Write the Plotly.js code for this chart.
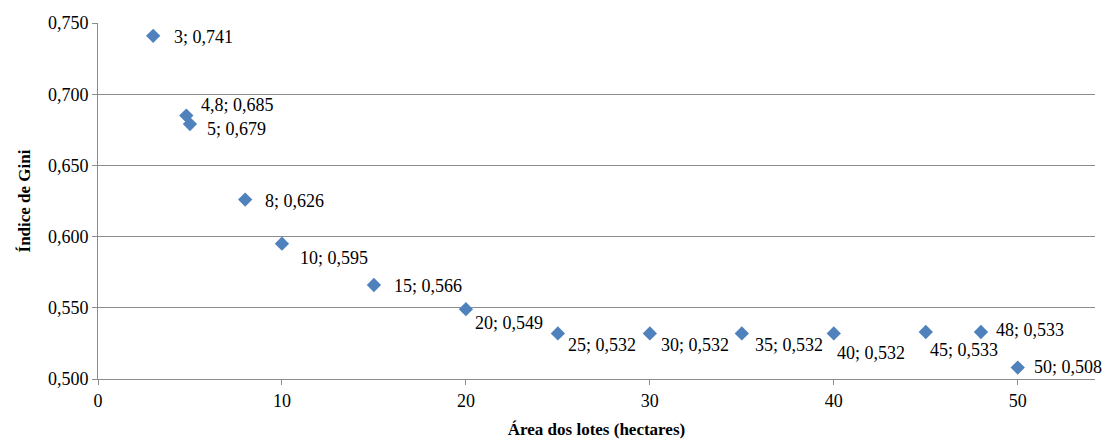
<!DOCTYPE html>
<html>
<head>
<meta charset="utf-8">
<script src="https://cdn.plot.ly/plotly-3.0.1.min.js"></script>
<style>html,body{margin:0;padding:0;background:#fff;}#chart{width:1104px;height:439px;}</style>
</head>
<body>
<div id="chart"></div>
<script>
// Data
const areaLotes = [3, 4.8, 5, 8, 10, 15, 20, 25, 30, 35, 40, 45, 48, 50];
const giniIndex = [0.741, 0.685, 0.679, 0.626, 0.595, 0.566, 0.549, 0.532, 0.532, 0.532, 0.532, 0.533, 0.533, 0.508];
const xTickVals = [0, 10, 20, 30, 40, 50];
const yTickVals = [0.500, 0.550, 0.600, 0.650, 0.700, 0.750];

// Label offsets (pixels, style only)
const labelDx = [20, 14, 16, 19, 17, 19, 8, 9, 10, 12, 2, 3, 14, 15];
const labelDy = [1, -11, 5, 1, 14, 1, 14, 12, 12, 12, 20, 18, -2, -1];

const fmt = v => String(v).replace('.', ',');
const labels = areaLotes.map((x, i) => fmt(x) + '; ' + giniIndex[i].toFixed(3).replace('.', ','));

const FONT = 'Liberation Serif, Times New Roman, serif';
const GRID = '#8c8c8c';

const annotations = areaLotes.map((x, i) => ({
  x: x, y: giniIndex[i], xref: 'x', yref: 'y',
  text: labels[i], showarrow: false,
  xanchor: 'left', yanchor: 'middle',
  xshift: labelDx[i] - 1, yshift: -labelDy[i],
  font: {family: FONT, size: 18, color: '#000'}
}));

const trace = {
  x: areaLotes, y: giniIndex, type: 'scatter', mode: 'markers',
  marker: {symbol: 'diamond', size: 11, color: '#4F81BD', line: {width: 0}},
  hoverinfo: 'x+y'
};

const layout = {
  width: 1104, height: 439,
  margin: {l: 98, r: 9, t: 23, b: 60, pad: 0},
  paper_bgcolor: '#fff', plot_bgcolor: '#fff',
  separators: ',.',
  font: {family: FONT, size: 18, color: '#000'},
  showlegend: false,
  xaxis: {
    range: [0, 54.2], tickvals: xTickVals, ticktext: xTickVals.map(String),
    showgrid: false, zeroline: false,
    showline: true, linecolor: GRID, linewidth: 1,
    ticks: 'outside', ticklen: 5, tickcolor: GRID,
    tickfont: {family: FONT, size: 18, color: '#000'},
    title: {text: '<b>Área dos lotes (hectares)</b>', font: {family: FONT, size: 17, color: '#000'}, standoff: 14}
  },
  yaxis: {
    range: [0.5, 0.75], tickvals: yTickVals, tickformat: '.3f',
    showgrid: true, gridcolor: GRID, gridwidth: 1,
    zeroline: false,
    showline: true, linecolor: GRID, linewidth: 1,
    ticks: 'outside', ticklen: 5, tickcolor: GRID,
    tickfont: {family: FONT, size: 18, color: '#000'},
    title: {text: '<b>Índice de Gini</b>', font: {family: FONT, size: 17, color: '#000'}, standoff: 12}
  },
  annotations: annotations
};

Plotly.newPlot('chart', [trace], layout, {displayModeBar: false, staticPlot: true});
</script>
</body>
</html>
